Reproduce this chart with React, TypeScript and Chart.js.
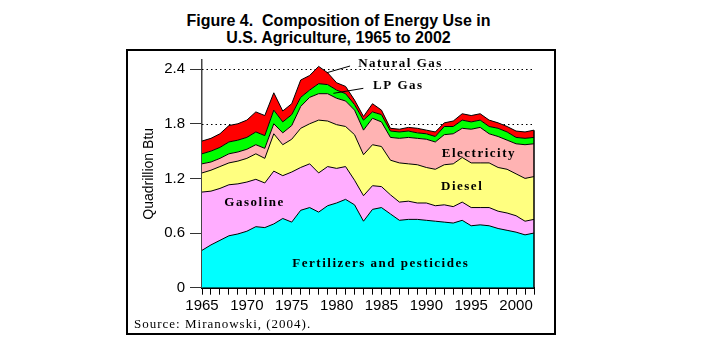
import React, { useEffect, useRef } from 'react';
import { Chart, registerables } from 'chart.js';

Chart.register(...registerables);

// ---- Data (quadrillion Btu) ----
const years = [
  1965, 1966, 1967, 1968, 1969, 1970, 1971, 1972, 1973, 1974,
  1975, 1976, 1977, 1978, 1979, 1980, 1981, 1982, 1983, 1984,
  1985, 1986, 1987, 1988, 1989, 1990, 1991, 1992, 1993, 1994,
  1995, 1996, 1997, 1998, 1999, 2000, 2001, 2002,
];
const fertilizers = [
  0.41, 0.47, 0.52, 0.57, 0.59, 0.62, 0.67, 0.66, 0.70, 0.76,
  0.72, 0.85, 0.88, 0.83, 0.90, 0.93, 0.97, 0.91, 0.73, 0.86,
  0.88, 0.81, 0.74, 0.75, 0.75, 0.74, 0.73, 0.72, 0.71, 0.74,
  0.68, 0.69, 0.68, 0.65, 0.63, 0.61, 0.58, 0.60,
];
const gasoline = [
  0.64, 0.59, 0.57, 0.56, 0.55, 0.54, 0.52, 0.49, 0.58, 0.47,
  0.55, 0.47, 0.48, 0.43, 0.43, 0.38, 0.36, 0.27, 0.28, 0.26,
  0.23, 0.21, 0.20, 0.20, 0.18, 0.19, 0.17, 0.19, 0.18, 0.20,
  0.20, 0.19, 0.20, 0.19, 0.19, 0.18, 0.15, 0.15,
];
const diesel = [
  0.21, 0.23, 0.24, 0.24, 0.25, 0.26, 0.28, 0.27, 0.41, 0.34,
  0.36, 0.43, 0.44, 0.58, 0.50, 0.48, 0.44, 0.50, 0.45, 0.45,
  0.44, 0.38, 0.43, 0.41, 0.42, 0.39, 0.40, 0.44, 0.47, 0.49,
  0.49, 0.49, 0.49, 0.48, 0.48, 0.46, 0.47, 0.47,
];
const electricity = [
  0.10, 0.09, 0.09, 0.10, 0.10, 0.10, 0.10, 0.11, 0.11, 0.13,
  0.15, 0.24, 0.29, 0.29, 0.30, 0.29, 0.28, 0.27, 0.27, 0.29,
  0.27, 0.25, 0.27, 0.29, 0.29, 0.31, 0.30, 0.33, 0.33, 0.32,
  0.37, 0.39, 0.32, 0.34, 0.32, 0.33, 0.37, 0.36,
];
const lpGas = [
  0.11, 0.12, 0.12, 0.13, 0.13, 0.13, 0.14, 0.14, 0.15, 0.12,
  0.12, 0.10, 0.08, 0.11, 0.10, 0.09, 0.08, 0.06, 0.11, 0.07,
  0.08, 0.07, 0.07, 0.07, 0.06, 0.06, 0.06, 0.09, 0.08, 0.09,
  0.08, 0.08, 0.08, 0.09, 0.09, 0.07, 0.07, 0.07,
];
const naturalGas = [
  0.14, 0.14, 0.15, 0.18, 0.18, 0.19, 0.22, 0.22, 0.19, 0.12,
  0.12, 0.19, 0.16, 0.19, 0.13, 0.08, 0.08, 0.05, 0.04, 0.09,
  0.05, 0.03, 0.03, 0.04, 0.05, 0.04, 0.05, 0.04, 0.06, 0.07,
  0.07, 0.07, 0.07, 0.06, 0.06, 0.07, 0.07, 0.08,
];
const seriesNames = [
  'Fertilizers and pesticides', 'Gasoline', 'Diesel', 'Electricity', 'LP Gas', 'Natural Gas',
];
const seriesColors = ['#00FFFF', '#FFADFF', '#FFFF80', '#FFB3B3', '#00FF00', '#FF0000'];
const yTickValues = [0, 0.6, 1.2, 1.8, 2.4];
const xLabelYears = [1965, 1970, 1975, 1980, 1985, 1990, 1995, 2000];

// In-chart labels, anchored in data coordinates (year, value)
const areaLabels = [
  { text: 'Natural Gas', year: 1982.4, value: 2.455 },
  { text: 'LP Gas', year: 1984.06, value: 2.214 },
  { text: 'Electricity', year: 1991.72, value: 1.475 },
  { text: 'Diesel', year: 1991.64, value: 1.109 },
  { text: 'Gasoline', year: 1967.49, value: 0.933 },
  { text: 'Fertilizers and pesticides', year: 1975.07, value: 0.26 },
];
const leaderLines = [
  { from: [1978.9, 2.36], to: [1981.5, 2.434] },
  { from: [1979.64, 2.134], to: [1982.98, 2.189] },
];

const allSeries = [fertilizers, gasoline, diesel, electricity, lpGas, naturalGas];

const decorPlugin = {
  id: 'decor',
  beforeDatasetsDraw(chart: any) {
    const { ctx, chartArea, scales } = chart;
    const y = scales.y;
    ctx.save();
    ctx.strokeStyle = '#000';
    ctx.lineWidth = 1;
    ctx.setLineDash([1.5, 3]);
    yTickValues.forEach((v) => {
      if (v <= 0) return;
      const py = Math.round(y.getPixelForValue(v)) + 0.5;
      ctx.beginPath();
      ctx.moveTo(chartArea.left, py);
      ctx.lineTo(chartArea.right, py);
      ctx.stroke();
    });
    ctx.restore();
  },
  afterDatasetsDraw(chart: any) {
    const { ctx, scales } = chart;
    const x = scales.x;
    const y = scales.y;
    const px = (yr: number) => x.getPixelForValue(yr - years[0]);
    ctx.save();
    // right edge of the stacked areas
    const last = years.length - 1;
    const total = allSeries.reduce((s, arr) => s + arr[last], 0);
    ctx.strokeStyle = '#000';
    ctx.lineWidth = 1.5;
    ctx.beginPath();
    ctx.moveTo(px(years[last]), y.getPixelForValue(0));
    ctx.lineTo(px(years[last]), y.getPixelForValue(total));
    ctx.stroke();
    // leader lines
    ctx.lineWidth = 1;
    leaderLines.forEach((l) => {
      ctx.beginPath();
      ctx.moveTo(px(l.from[0]), y.getPixelForValue(l.from[1]));
      ctx.lineTo(px(l.to[0]), y.getPixelForValue(l.to[1]));
      ctx.stroke();
    });
    // area labels
    ctx.fillStyle = '#000';
    ctx.font = 'bold 13px "Liberation Serif", "Times New Roman", serif';
    (ctx as any).letterSpacing = '1.5px';
    ctx.textAlign = 'left';
    ctx.textBaseline = 'middle';
    areaLabels.forEach((a) => {
      ctx.fillText(a.text, px(a.year), y.getPixelForValue(a.value));
    });
    ctx.restore();
  },
};

export default function App() {
  const canvasRef = useRef<HTMLCanvasElement | null>(null);

  useEffect(() => {
    if (!canvasRef.current) return;
    const chart = new Chart(canvasRef.current, {
      type: 'line',
      data: {
        labels: years.map(String),
        datasets: allSeries.map((arr, i) => ({
          label: seriesNames[i],
          data: arr,
          backgroundColor: seriesColors[i],
          borderColor: '#000',
          borderWidth: 1,
          pointRadius: 0,
          tension: 0,
          fill: i === 0 ? 'origin' : '-1',
        })),
      },
      options: {
        responsive: false,
        animation: false,
        events: [],
        layout: { padding: { left: 141, right: 187, top: 60, bottom: 37.3 } },
        plugins: { legend: { display: false }, tooltip: { enabled: false } },
        scales: {
          x: {
            type: 'category',
            offset: false,
            grid: {
              display: true,
              drawOnChartArea: false,
              drawTicks: true,
              tickLength: 7,
              color: '#000',
              lineWidth: 1,
            },
            border: { display: true, color: '#000', width: 2 },
            ticks: {
              autoSkip: false,
              maxRotation: 0,
              minRotation: 0,
              padding: 2,
              color: '#000',
              font: { family: '"Liberation Sans", Arial, sans-serif', size: 15 },
              callback: (_v: any, idx: number) =>
                xLabelYears.includes(years[idx]) ? String(years[idx]) : '',
            },
            afterFit: (scale: any) => {
              scale.height = 30;
            },
          },
          y: {
            stacked: true,
            min: 0,
            max: 2.5,
            afterBuildTicks: (scale: any) => {
              scale.ticks = yTickValues.map((v) => ({ value: v }));
            },
            grid: {
              display: true,
              drawOnChartArea: false,
              drawTicks: true,
              tickLength: 12,
              color: '#333',
              lineWidth: 1,
            },
            border: { display: true, color: '#444', width: 1.5 },
            ticks: {
              padding: 5,
              color: '#000',
              font: { family: '"Liberation Sans", Arial, sans-serif', size: 15 },
              callback: (v: any) => (Number(v) === 0 ? '0' : Number(v).toFixed(1)),
            },
            title: {
              display: true,
              text: 'Quadrillion Btu',
              color: '#000',
              padding: { top: 0, bottom: 0 },
              font: { family: '"Liberation Sans Narrow", "Liberation Sans", Arial, sans-serif', size: 14 },
            },
            afterFit: (scale: any) => {
              scale.width = 61;
            },
          },
        },
      },
      plugins: [decorPlugin],
    });
    return () => chart.destroy();
  }, []);

  return (
    <div style={{ position: 'absolute', left: 0, top: 0, width: 721, height: 355, background: '#fff' }}>
      <div
        style={{
          position: 'absolute',
          left: 0,
          top: 12,
          width: 677,
          textAlign: 'center',
          fontFamily: '"Liberation Sans", Arial, sans-serif',
          fontWeight: 'bold',
          fontSize: 16,
          lineHeight: '17px',
          whiteSpace: 'pre',
          color: '#000',
        }}
      >
        {'Figure 4.  Composition of Energy Use in\nU.S. Agriculture, 1965 to 2002'}
      </div>
      <div
        style={{
          position: 'absolute',
          left: 126,
          top: 49,
          width: 430,
          height: 286,
          border: '2px solid #000',
          boxSizing: 'border-box',
        }}
      />
      <canvas ref={canvasRef} width={721} height={355} style={{ position: 'absolute', left: 0, top: 0, width: 721, height: 355 }} />
      <div
        style={{
          position: 'absolute',
          left: 134,
          top: 316,
          fontFamily: '"Liberation Serif", "Times New Roman", serif',
          fontSize: 13,
          lineHeight: '15px',
          letterSpacing: '1px',
          color: '#000',
          whiteSpace: 'pre',
        }}
      >
        Source: Miranowski, (2004).
      </div>
    </div>
  );
}
